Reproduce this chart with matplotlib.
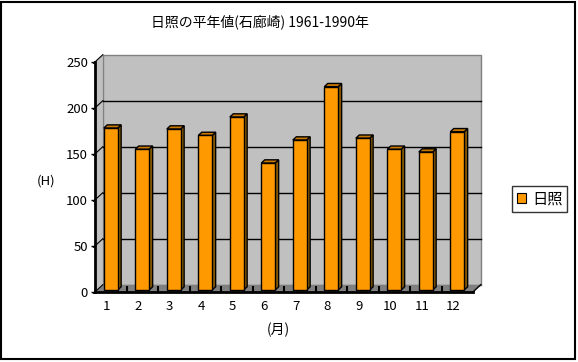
import numpy as np
import matplotlib.pyplot as plt
import matplotlib.transforms as mtransforms
from matplotlib.patches import Polygon, Rectangle

plt.rcParams['font.family'] = ['Noto Sans CJK JP', 'DejaVu Sans']

# data
months = np.arange(1, 13)
month_labels = [str(m) for m in months]
sunshine = [176, 153, 175, 168, 188, 138, 163, 221, 165, 153, 150, 172]
yticks = [0, 50, 100, 150, 200, 250]

title = "日照の平年値(石廊崎) 1961-1990年"
series_name = "日照"

fig = plt.figure(figsize=(5.78, 3.62), dpi=100)
W, H = 578, 362
ax = fig.add_axes([95 / W, (H - 292) / H, 378 / W, 230 / H])
ax.set_xlim(0.5, 12.5)
ax.set_ylim(0, 250)
ax.patch.set_visible(False)

# depth of walls / bars in data units
DX, DY = 0.25, 8
bw = 0.44
bdx, bdy = 0.11, 3.5

wall = '#C0C0C0'
floor = '#808080'
# floor, side wall, back wall
ax.add_patch(Polygon([(0.5, 0), (12.5, 0), (12.5 + DX, DY), (0.5 + DX, DY)],
                     closed=True, fc=floor, ec='none', clip_on=False, zorder=0))
ax.add_patch(Polygon([(0.5, 0), (0.5 + DX, DY), (0.5 + DX, 250 + DY), (0.5, 250)],
                     closed=True, fc=wall, ec='none', clip_on=False, zorder=0))
ax.add_patch(Rectangle((0.5 + DX, DY), 12, 250, fc=wall, ec='#808080', lw=1,
                       clip_on=False, zorder=0.5))
ax.plot([0.5 + DX, 12.5 + DX], [DY, DY], color=floor, lw=1, clip_on=False, zorder=0.6)
for v in yticks[1:-1]:
    ax.plot([0.5 + DX, 12.5 + DX], [v + DY, v + DY], color='black', lw=1,
            clip_on=False, zorder=1)
for v in yticks:
    ax.plot([0.45, 0.5 + DX], [v - 1.5, v + DY], color='black', lw=0.8,
            clip_on=False, zorder=1)
ax.plot([12.5, 12.5 + DX], [0, DY], color='black', lw=1, clip_on=False, zorder=1)

# bars sit slightly behind the front plane
lift = ax.transData + mtransforms.ScaledTranslation(0, 2 / 100, fig.dpi_scale_trans)
bars = ax.bar(months, sunshine, width=bw, color='#FF9900', edgecolor='black', lw=1, zorder=3)
for b in bars:
    b.set_transform(lift)
for m, v in zip(months, sunshine):
    r = m + bw / 2
    l = m - bw / 2
    ax.add_patch(Polygon([(r, 0), (r + bdx, bdy), (r + bdx, v + bdy), (r, v)],
                         closed=True, fc='#8A5A00', ec='black', lw=1, zorder=2.5,
                         transform=lift))
    ax.add_patch(Polygon([(l, v), (r, v), (r + bdx, v + bdy), (l + bdx, v + bdy)],
                         closed=True, fc='#C87800', ec='black', lw=1, zorder=2.5,
                         clip_on=False, transform=lift))

# axes
for s in ['top', 'right']:
    ax.spines[s].set_visible(False)
ax.spines['left'].set_linewidth(2)
ax.spines['bottom'].set_linewidth(2)
ax.spines['left'].set_zorder(4)
ax.spines['bottom'].set_zorder(4)
ax.set_yticks(yticks)
ax.set_yticklabels([str(v) for v in yticks], fontsize=9.5)
ax.tick_params(axis='y', length=3, width=1, pad=2)
ax.set_xticks(months)
ax.set_xticklabels(month_labels, fontsize=9.5)
ax.set_xticks(months[:-1] + 0.5, minor=True)
ax.tick_params(axis='x', which='major', length=0, pad=6)
ax.tick_params(axis='x', which='minor', length=4, width=1.5, direction='in')
shift = mtransforms.ScaledTranslation(-4 / 100, 0, fig.dpi_scale_trans)
for lbl in ax.get_xticklabels():
    lbl.set_transform(lbl.get_transform() + shift)

fig.text(260 / W, 1 - 22 / H, title, ha='center', va='center', fontsize=10)
fig.text(46 / W, 1 - 181 / H, "(H)", ha='center', va='center', fontsize=9.5)
fig.text(278 / W, 1 - 330 / H, "(月)", ha='center', va='center', fontsize=10)

# legend
leg = ax.legend([plt.Rectangle((0, 0), 1, 1, fc='#FF9900', ec='black', lw=0.8)],
                [series_name], loc='center left', bbox_to_anchor=(512 / W, 1 - 199 / H),
                bbox_transform=fig.transFigure, fontsize=11, frameon=True, fancybox=False,
                handlelength=0.6, handleheight=0.6, handletextpad=0.4, borderpad=0.3,
                borderaxespad=0)
leg.get_frame().set_edgecolor('black')
leg.get_frame().set_linewidth(1)

# outer frame
fig.patches.append(Rectangle((1 / W, 3 / H), 574 / W, 357 / H, transform=fig.transFigure,
                             fill=False, ec='black', lw=1.5))

fig.savefig('out.png', dpi=100)
